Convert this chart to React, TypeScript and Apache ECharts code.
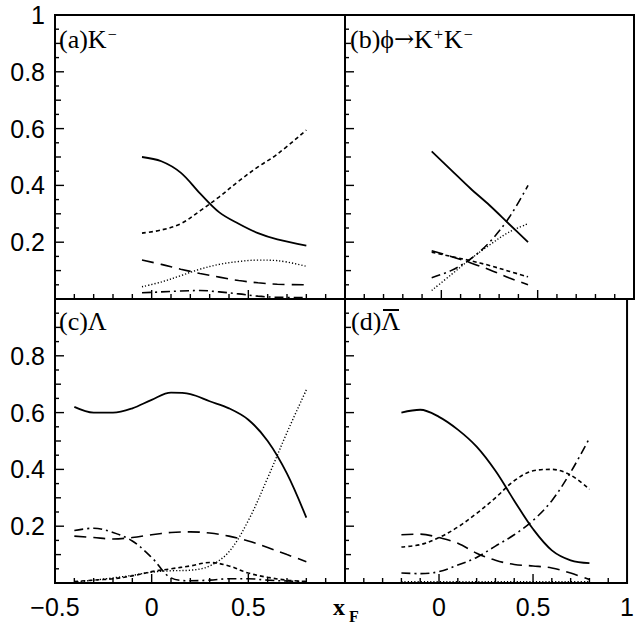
import React, { useEffect, useRef } from "react";
import * as echarts from "echarts";

// ---- data (x_F grids and fractions per curve) ----
const xA = [-0.05, 0.05, 0.15, 0.25, 0.35, 0.45, 0.55, 0.65, 0.8];
const aSolid = [0.5, 0.485, 0.445, 0.372, 0.305, 0.265, 0.232, 0.21, 0.188];
const aShortDash = [0.232, 0.243, 0.265, 0.31, 0.36, 0.415, 0.465, 0.51, 0.595];
const aLongDash = [0.137, 0.122, 0.105, 0.09, 0.077, 0.065, 0.057, 0.052, 0.05];
const aDotted = [0.043, 0.06, 0.082, 0.105, 0.122, 0.132, 0.137, 0.135, 0.115];
const aDashDot = [0.022, 0.025, 0.028, 0.03, 0.025, 0.018, 0.01, 0.006, 0.005];

const xB = [-0.05, 0.05, 0.15, 0.25, 0.35, 0.45];
const bSolid = [0.52, 0.455, 0.39, 0.33, 0.265, 0.2];
const bShortDash = [0.165, 0.15, 0.135, 0.118, 0.098, 0.078];
const bLongDash = [0.17, 0.15, 0.128, 0.103, 0.075, 0.05];
const bDotted = [0.03, 0.085, 0.14, 0.19, 0.235, 0.265];
const bDashDot = [0.075, 0.1, 0.14, 0.2, 0.285, 0.4];

const xC = [-0.4, -0.3, -0.2, -0.1, 0, 0.1, 0.2, 0.3, 0.4, 0.5, 0.6, 0.7, 0.8];
const cSolid = [0.62, 0.6, 0.6, 0.615, 0.645, 0.67, 0.665, 0.64, 0.615, 0.575, 0.5, 0.385, 0.23];
const cShortDash = [0.005, 0.01, 0.015, 0.025, 0.04, 0.05, 0.06, 0.072, 0.06, 0.035, 0.02, 0.01, 0.005];
const cLongDash = [0.165, 0.16, 0.155, 0.16, 0.17, 0.178, 0.18, 0.176, 0.165, 0.148, 0.125, 0.1, 0.075];
const cDotted = [0.003, 0.01, 0.018, 0.027, 0.038, 0.043, 0.045, 0.06, 0.11, 0.22, 0.37, 0.53, 0.68];
const cDashDot = [0.185, 0.193, 0.178, 0.148, 0.09, 0.018, 0.008, 0.01, 0.015, 0.015, 0.01, 0.007, 0.005];

const xD = [-0.2, -0.1, 0, 0.1, 0.2, 0.3, 0.4, 0.5, 0.6, 0.7, 0.8];
const dSolid = [0.6, 0.61, 0.585, 0.54, 0.48, 0.395, 0.29, 0.19, 0.115, 0.08, 0.07];
const dShortDash = [0.127, 0.135, 0.16, 0.197, 0.245, 0.3, 0.36, 0.395, 0.4, 0.38, 0.33];
const dLongDash = [0.17, 0.172, 0.16, 0.14, 0.105, 0.08, 0.065, 0.06, 0.053, 0.035, 0.012];
const dDotted = [0.005, 0.005, 0.005, 0.005, 0.005, 0.005, 0.005, 0.005, 0.005, 0.005, 0.005];
const dDashDot = [0.035, 0.033, 0.04, 0.063, 0.09, 0.13, 0.17, 0.22, 0.29, 0.39, 0.51];

// which panels show tick labels, and which end labels are hidden
const xLabelShown = [false, false, true, true];
const xShowMin = [false, false, true, false];
const xShowMax = [false, false, false, true];
const yLabelShown = [true, false, true, false];
const yShowMin = [false, false, false, false];
const yShowMax = [true, false, false, false];

// axis tick values (placed through the axes' own scales)
const xTickValues = [-0.4, -0.3, -0.2, -0.1, 0, 0.1, 0.2, 0.3, 0.4, 0.5, 0.6, 0.7, 0.8, 0.9];
const yTickValues = [0.05, 0.1, 0.15, 0.2, 0.25, 0.3, 0.35, 0.4, 0.45, 0.5, 0.55, 0.6, 0.65, 0.7, 0.75, 0.8, 0.85, 0.9, 0.95];

const STYLES: Record<string, any> = {
  solid: { type: "solid", width: 1.8 },
  shortDash: { type: [4, 3], width: 1.6 },
  longDash: { type: [12, 7], width: 1.6 },
  dotted: { type: [1.2, 2], width: 1.4 },
  dashDot: { type: [9, 4, 2, 4], width: 1.6 },
};

function fmt(v: number) {
  const s = String(Math.round(v * 10) / 10);
  return s.replace("-", "\u2212");
}

const isMult = (v: number, m: number) => Math.abs(v / m - Math.round(v / m)) < 1e-6;

export default function App() {
  const ref = useRef<HTMLDivElement>(null);
  useEffect(() => {
    if (!ref.current) return;
    const chart = echarts.init(ref.current, null, { renderer: "svg" });

    const grids = [
      { left: 55, top: 15, width: 290, height: 284 },
      { left: 345, top: 15, width: 289, height: 284 },
      { left: 55, top: 299, width: 290, height: 284 },
      { left: 345, top: 299, width: 289, height: 284 },
    ].map((g) => ({ ...g, show: true, borderColor: "#000", borderWidth: 2 }));

    const labelFont = { fontFamily: "Liberation Sans, Arial, sans-serif", fontSize: 25, color: "#000" };

    const xAxes = [0, 1, 2, 3].map((i) => ({
      type: "value",
      gridIndex: i,
      min: -0.5,
      max: 1,
      interval: 0.5,
      axisLine: { show: true, onZero: false, lineStyle: { color: "#000", width: 2 } },
      axisTick: { show: false },
      splitLine: { show: false },
      axisLabel: {
        show: xLabelShown[i],
        showMinLabel: xShowMin[i],
        showMaxLabel: xShowMax[i],
        margin: 11,
        ...labelFont,
        formatter: fmt,
      },
    }));

    const yAxes = [0, 1, 2, 3].map((i) => ({
      type: "value",
      gridIndex: i,
      min: 0,
      max: 1,
      interval: 0.2,
      axisLine: { show: true, onZero: false, lineStyle: { color: "#000", width: 2 } },
      axisTick: { show: false },
      splitLine: { show: false },
      axisLabel: {
        show: yLabelShown[i],
        showMinLabel: yShowMin[i],
        showMaxLabel: yShowMax[i],
        margin: 10,
        ...labelFont,
        formatter: fmt,
      },
    }));

    const mk = (g: number, xs: number[], ys: number[], style: string) => ({
      type: "line",
      xAxisIndex: g,
      yAxisIndex: g,
      data: xs.map((x, k) => [x, ys[k]]),
      showSymbol: false,
      smooth: 0.35,
      lineStyle: { color: "#000", ...STYLES[style] },
      silent: true,
    });

    // tick data: [kind (0 = x tick, 1 = y tick), value, length]
    const tickData: number[][] = [];
    for (const xv of xTickValues) tickData.push([0, xv, isMult(xv, 0.5) ? 9 : 5]);
    for (const yv of yTickValues) tickData.push([1, yv, isMult(yv, 0.2) ? 9 : isMult(yv, 0.1) ? 6 : 4]);

    const tickSeries = (g: number) => ({
      type: "custom",
      xAxisIndex: g,
      yAxisIndex: g,
      silent: true,
      clip: false,
      z: 5,
      data: tickData,
      renderItem: (_params: any, api: any) => {
        const kind = api.value(0);
        const v = api.value(1);
        const len = api.value(2);
        if (kind === 0) {
          const p = api.coord([v, 0]);
          return { type: "rect", shape: { x: p[0] - 0.7, y: p[1] - len, width: 1.4, height: len }, style: { fill: "#000" } };
        }
        const p = api.coord([-0.5, v]);
        return { type: "rect", shape: { x: p[0], y: p[1] - 0.7, width: len, height: 1.4 }, style: { fill: "#000" } };
      },
    });

    const series = [
      mk(0, xA, aSolid, "solid"),
      mk(0, xA, aShortDash, "shortDash"),
      mk(0, xA, aLongDash, "longDash"),
      mk(0, xA, aDotted, "dotted"),
      mk(0, xA, aDashDot, "dashDot"),
      mk(1, xB, bSolid, "solid"),
      mk(1, xB, bShortDash, "shortDash"),
      mk(1, xB, bLongDash, "longDash"),
      mk(1, xB, bDotted, "dotted"),
      mk(1, xB, bDashDot, "dashDot"),
      mk(2, xC, cSolid, "solid"),
      mk(2, xC, cShortDash, "shortDash"),
      mk(2, xC, cLongDash, "longDash"),
      mk(2, xC, cDotted, "dotted"),
      mk(2, xC, cDashDot, "dashDot"),
      mk(3, xD, dSolid, "solid"),
      mk(3, xD, dShortDash, "shortDash"),
      mk(3, xD, dLongDash, "longDash"),
      mk(3, xD, dDotted, "dotted"),
      mk(3, xD, dDashDot, "dashDot"),
      tickSeries(0),
      tickSeries(1),
      tickSeries(2),
      tickSeries(3),
    ];

    const serif = "Liberation Serif, Times New Roman, serif";
    const rich = {
      n: { fontFamily: serif, fontSize: 26, color: "#000" },
      a: { fontFamily: "DejaVu Serif, serif", fontSize: 24, color: "#000" },
      s: { fontFamily: serif, fontSize: 16, color: "#000", verticalAlign: "top" as const, padding: [0, 1, 0, 1] },
    };

    const graphic: any[] = [
      { type: "text", left: 59, top: 26, style: { text: "{n|(a)K}{s|\u2212}", rich } },
      { type: "text", left: 350, top: 26, style: { text: "{n|(b)\u03D5}{a|\u2192}{n|K}{s|+}{n|K}{s|\u2212}", rich } },
      { type: "text", left: 59, top: 308, style: { text: "{n|(c)\u039B}", rich } },
      { type: "text", left: 351, top: 308, style: { text: "{n|(d)\u039B}", rich } },
      { type: "line", shape: { x1: 383, y1: 310, x2: 399, y2: 310 }, style: { stroke: "#000", lineWidth: 2 } },
      { type: "text", left: 333, top: 595, style: { text: "x", fontFamily: serif, fontSize: 24, fontWeight: "bold", fill: "#000" } },
      { type: "text", left: 349, top: 608, style: { text: "F", fontFamily: serif, fontSize: 16, fontWeight: "bold", fill: "#000" } },
    ];

    chart.setOption({
      animation: false,
      grid: grids,
      xAxis: xAxes,
      yAxis: yAxes,
      series,
      graphic,
    });

    return () => chart.dispose();
  }, []);
  return <div ref={ref} style={{ width: 637, height: 628, position: "absolute", left: 0, top: 0 }} />;
}
